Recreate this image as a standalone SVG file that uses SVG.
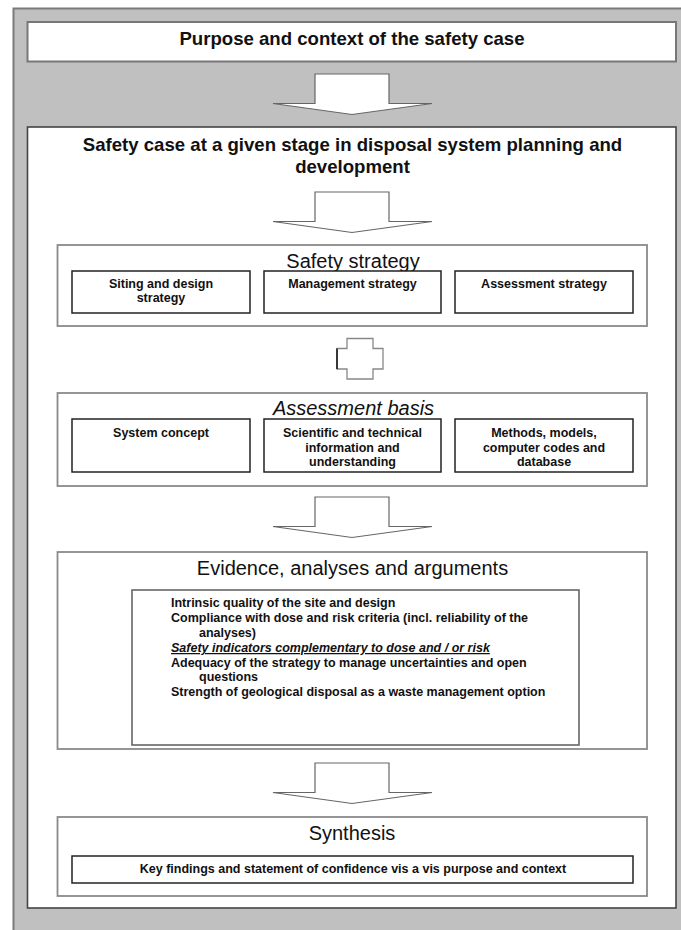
<svg xmlns="http://www.w3.org/2000/svg" xmlns:xlink="http://www.w3.org/1999/xlink" width="681" height="930" viewBox="0 0 681 930">
<style>
text{font-family:"Liberation Sans",Arial,sans-serif;fill:#111}
.h1{font-size:18.6px;font-weight:bold;text-anchor:middle}
.h2{font-size:20px;text-anchor:middle}
.sm{font-size:12.5px;font-weight:bold;text-anchor:middle}
.ev{font-size:12.5px;font-weight:bold}
.sec{fill:#fff;stroke:#8a8a8a;stroke-width:1.8}
.sub{fill:#fff;stroke:#222;stroke-width:1.5}
.arr{fill:#fff;stroke:#666;stroke-width:1.2;stroke-linejoin:miter}
</style>
<defs>
<path id="blk" d="M-37,0 H37 V29.5 H80 L0,40.5 L-79,29.5 H-37 Z"/>
</defs>
<rect id="frame" x="13.5" y="8.5" width="680" height="930" fill="#c0c0c0" stroke="#7a7a7a" stroke-width="2"/>

<g id="purpose">
<rect x="27.5" y="22" width="648.5" height="39.5" fill="#fff" stroke="#777" stroke-width="2"/>
<text class="h1" x="352" y="45">Purpose and context of the safety case</text>
</g>

<g id="safetycase">
<rect x="27.5" y="127" width="648.5" height="781" fill="#fff" stroke="#444" stroke-width="1.6"/>
<text class="h1" x="352.5" y="151">Safety case at a given stage in disposal system planning and</text>
<text class="h1" x="352.5" y="173">development</text>
</g>

<g id="strategy">
<rect class="sec" x="57.5" y="245" width="589.5" height="81"/>
<text class="h2" x="353" y="268">Safety strategy</text>
<g id="siting">
<rect class="sub" x="72" y="271" width="178" height="42"/>
<text class="sm" x="161" y="288">Siting and design</text>
<text class="sm" x="161" y="302">strategy</text>
</g>
<g id="management">
<rect class="sub" x="264" y="271" width="177" height="42"/>
<text class="sm" x="352.5" y="288">Management strategy</text>
</g>
<g id="assessstrat">
<rect class="sub" x="455" y="271" width="178" height="42"/>
<text class="sm" x="544" y="288">Assessment strategy</text>
</g>
</g>

<g id="basis">
<rect class="sec" x="57.5" y="393" width="589.5" height="93"/>
<text class="h2" x="353.5" y="415" font-style="italic">Assessment basis</text>
<g id="sysconcept">
<rect class="sub" x="72" y="419" width="178" height="53"/>
<text class="sm" x="161" y="437">System concept</text>
</g>
<g id="scientific">
<rect class="sub" x="264" y="419" width="177" height="53"/>
<text class="sm" x="352.5" y="437">Scientific and technical</text>
<text class="sm" x="352.5" y="451.5">information and</text>
<text class="sm" x="352.5" y="466">understanding</text>
</g>
<g id="methods">
<rect class="sub" x="455" y="419" width="178" height="53"/>
<text class="sm" x="544" y="437">Methods, models,</text>
<text class="sm" x="544" y="451.5">computer codes and</text>
<text class="sm" x="544" y="466">database</text>
</g>
</g>

<g id="evidence">
<rect class="sec" x="57.5" y="552" width="589.5" height="197"/>
<text class="h2" x="352.5" y="575">Evidence, analyses and arguments</text>
<rect x="132" y="590" width="447" height="155" fill="#fff" stroke="#666" stroke-width="1.6"/>
<text class="ev" x="171" y="607">Intrinsic quality of the site and design</text>
<text class="ev" x="171" y="622">Compliance with dose and risk criteria (incl. reliability of the</text>
<text class="ev" x="199" y="637">analyses)</text>
<text class="ev" x="171" y="652" font-style="italic" text-decoration="underline">Safety indicators complementary to dose and / or risk</text>
<text class="ev" x="171" y="666.5">Adequacy of the strategy to manage uncertainties and open</text>
<text class="ev" x="199" y="681">questions</text>
<text class="ev" x="171" y="695.5">Strength of geological disposal as a waste management option</text>
</g>

<g id="synthesis">
<rect class="sec" x="57.5" y="817" width="589.5" height="79"/>
<text class="h2" x="352" y="840">Synthesis</text>
<rect class="sub" x="72" y="856" width="561" height="27"/>
<text class="sm" x="353" y="873">Key findings and statement of confidence vis a vis purpose and context</text>
</g>

<g id="connectors">
<use href="#blk" xlink:href="#blk" class="arr" x="352" y="74"/>
<use href="#blk" xlink:href="#blk" class="arr" x="352" y="192"/>
<use href="#blk" xlink:href="#blk" class="arr" x="352" y="497"/>
<use href="#blk" xlink:href="#blk" class="arr" x="352" y="763"/>
<path id="plus" d="M347,338.5 H373 V348.5 H383 V369 H373 V379 H347 V369 H337 V348.5 H347 Z" fill="#fff" stroke="#888" stroke-width="1.3"/>
<path d="M337,348.5 V369" stroke="#111" stroke-width="1.5" fill="none"/>
</g>
</svg>
